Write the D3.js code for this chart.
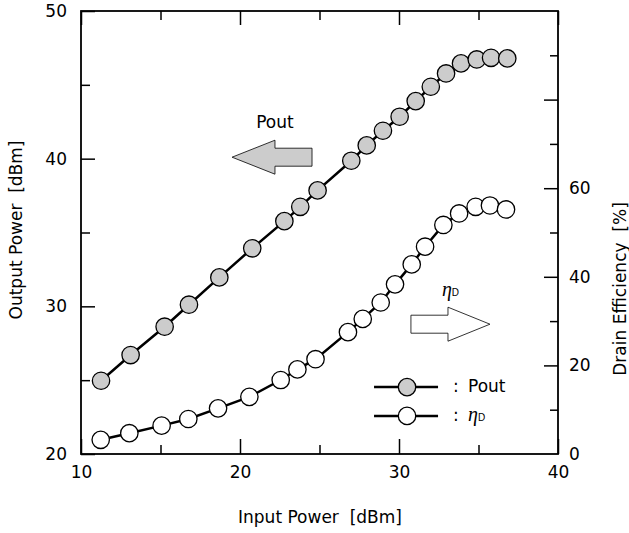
<!DOCTYPE html>
<html>
<head>
<meta charset="utf-8">
<style>
  body { margin: 0; background: #fff; }
  svg { display: block; }
  text { font-family: "DejaVu Sans", "Liberation Sans", Arial, sans-serif; fill: #000; }
</style>
</head>
<body>
<svg id="chart"></svg>
<script src="https://cdn.jsdelivr.net/npm/d3@7"></script>
<script>

var pinPout = [11.26, 13.12, 15.26, 16.79, 18.70, 20.77, 22.79, 23.79, 24.88, 27.0,
               27.97, 28.99, 30.04, 31.05, 32.0, 32.96, 33.9, 34.89, 35.79, 36.81];
var pout    = [24.96, 26.70, 28.62, 30.11, 31.96, 33.93, 35.77, 36.74, 37.85, 39.86,
               40.90, 41.89, 42.84, 43.90, 44.87, 45.77, 46.45, 46.72, 46.83, 46.79];
var pinEff  = [11.24, 13.04, 15.07, 16.75, 18.62, 20.59, 22.56, 23.61, 24.75, 26.79,
               27.72, 28.85, 29.75, 30.8, 31.64, 32.79, 33.78, 34.82, 35.72, 36.73];
var eff     = [3.2, 4.7, 6.4, 7.9, 10.3, 12.9, 16.7, 19.1, 21.4, 27.5,
               30.5, 34.2, 38.3, 42.8, 46.8, 51.7, 54.3, 55.8, 56.1, 55.2];

var xMajor = [10, 20, 30, 40], xMinor = [15, 25, 35];
var yMajor = [20, 30, 40, 50], yMinor = [25, 35, 45];
var y2Labels = [0, 20, 40, 60], y2Major = [20, 40, 60, 80], y2Minor = [10, 30, 50, 70, 90];

var FONT = '"DejaVu Sans", "Liberation Sans", Arial, sans-serif';

var svg = d3.select('#chart').attr('width', 629).attr('height', 533);

var margin = {top: 11, right: 71, bottom: 79, left: 81},
    width = 629 - margin.left - margin.right,
    height = 533 - margin.top - margin.bottom;

var g = svg.append('g')
    .attr('transform', 'translate(' + margin.left + ',' + margin.top + ')');

var x = d3.scaleLinear().domain([10, 40]).range([0, width]);
var y = d3.scaleLinear().domain([20, 50]).range([height, 0]);
var y2 = d3.scaleLinear().domain([0, 100]).range([height, 0]);

function styleAxis(sel) {
    sel.select('.domain').remove();
    sel.selectAll('line').style('stroke', '#000').style('stroke-width', 1.5);
    sel.selectAll('text').style('font-size', '17px').style('font-family', FONT);
}

// bottom
g.append('g').attr('transform', 'translate(0,' + height + ')')
    .call(d3.axisBottom(x).tickValues(xMajor).tickSize(-15).tickPadding(12).tickFormat(d3.format('d')))
    .call(styleAxis);
g.append('g').attr('transform', 'translate(0,' + height + ')')
    .call(d3.axisBottom(x).tickValues(xMinor).tickSize(-9).tickFormat(''))
    .call(styleAxis);
// top
g.append('g')
    .call(d3.axisTop(x).tickValues(xMajor).tickSize(-14).tickFormat(''))
    .call(styleAxis);
g.append('g')
    .call(d3.axisTop(x).tickValues(xMinor).tickSize(-9).tickFormat(''))
    .call(styleAxis);
// left
g.append('g')
    .call(d3.axisLeft(y).tickValues(yMajor).tickSize(-14).tickPadding(14).tickFormat(d3.format('d')))
    .call(styleAxis);
g.append('g')
    .call(d3.axisLeft(y).tickValues(yMinor).tickSize(-9).tickFormat(''))
    .call(styleAxis);
// right
g.append('g').attr('transform', 'translate(' + width + ',0)')
    .call(d3.axisRight(y2).tickValues(y2Labels).tickSize(0).tickPadding(11).tickFormat(d3.format('d')))
    .call(styleAxis);
g.append('g').attr('transform', 'translate(' + width + ',0)')
    .call(d3.axisRight(y2).tickValues(y2Major).tickSize(-14).tickFormat(''))
    .call(styleAxis);
g.append('g').attr('transform', 'translate(' + width + ',0)')
    .call(d3.axisRight(y2).tickValues(y2Minor).tickSize(-8).tickFormat(''))
    .call(styleAxis);

g.append('rect')
    .attr('width', width).attr('height', height)
    .style('fill', 'none').style('stroke', '#000').style('stroke-width', 1.8);

// axis titles
svg.append('text')
    .attr('x', 320).attr('y', 523)
    .attr('text-anchor', 'middle').style('font-size', '17px')
    .style('white-space', 'pre').text('Input Power  [dBm]');
svg.append('text')
    .attr('transform', 'translate(22,230) rotate(-90)')
    .attr('text-anchor', 'middle').style('font-size', '17px')
    .style('white-space', 'pre').text('Output Power  [dBm]');
svg.append('text')
    .attr('transform', 'translate(626,289) rotate(-90)')
    .attr('text-anchor', 'middle').style('font-size', '17px')
    .style('white-space', 'pre').text('Drain Efficiency  [%]');

// series
var poutData = pinPout.map(function(d, i) { return [d, pout[i]]; });
var effData = pinEff.map(function(d, i) { return [d, eff[i]]; });

g.append('path').datum(poutData)
    .attr('d', d3.line().x(function(d) { return x(d[0]); }).y(function(d) { return y(d[1]); }))
    .style('fill', 'none').style('stroke', '#000').style('stroke-width', 2.5);
g.append('path').datum(effData)
    .attr('d', d3.line().x(function(d) { return x(d[0]); }).y(function(d) { return y2(d[1]); }))
    .style('fill', 'none').style('stroke', '#000').style('stroke-width', 2.5);

g.selectAll('.pout').data(poutData).enter().append('circle')
    .attr('class', 'pout')
    .attr('cx', function(d) { return x(d[0]); })
    .attr('cy', function(d) { return y(d[1]); })
    .attr('r', 8.7)
    .style('fill', '#cccccc').style('stroke', '#000').style('stroke-width', 1.3);
g.selectAll('.eff').data(effData).enter().append('circle')
    .attr('class', 'eff')
    .attr('cx', function(d) { return x(d[0]); })
    .attr('cy', function(d) { return y2(d[1]); })
    .attr('r', 8.7)
    .style('fill', '#fff').style('stroke', '#000').style('stroke-width', 1.3);

// arrows pointing to the axis each curve belongs to
function arrow(x0, x1, xHead, cy, fill) {
    var pts = [[x0, cy - 9], [xHead, cy - 9], [xHead, cy - 17], [x1, cy],
               [xHead, cy + 17], [xHead, cy + 9], [x0, cy + 9]];
    g.append('polygon')
        .attr('points', pts.map(function(p) { return p.join(','); }).join(' '))
        .style('fill', fill).style('stroke', '#000').style('stroke-width', 0.8);
}
arrow(x(24.53), x(19.5), x(22.2), y(40.1), '#cccccc');
arrow(x(30.75), x(35.72), x(33.08), y2(29.3), '#fff');

g.append('text')
    .attr('x', x(22.2)).attr('y', y(40.1) - 29)
    .attr('text-anchor', 'middle').style('font-size', '17px').text('Pout');

function etaLabel(sel) {
    sel.append('tspan').text('η')
        .style('font-family', '"Liberation Serif", "Times New Roman", serif')
        .style('font-style', 'italic').style('font-size', '20px');
    sel.append('tspan').text('D').style('font-size', '10px')
        .style('font-family', '"Liberation Sans", Arial, sans-serif');
}
g.append('text')
    .attr('x', x(32.7)).attr('y', y2(35.6))
    .call(etaLabel);

// legend
var legendItems = ['Pout', 'eta'];
var legendFill = ['#cccccc', '#fff'];
var legendY = [y2(15.1), y2(8.6)];

legendItems.forEach(function(name, i) {
    var lx = x(28.43), ly = legendY[i];
    g.append('line')
        .attr('x1', lx).attr('x2', lx + 64).attr('y1', ly).attr('y2', ly)
        .style('stroke', '#000').style('stroke-width', 2.5);
    g.append('circle')
        .attr('cx', lx + 33).attr('cy', ly).attr('r', 8.7)
        .style('fill', legendFill[i]).style('stroke', '#000').style('stroke-width', 1.3);
    g.append('text').attr('x', lx + 79).attr('y', ly + 5)
        .style('font-size', '17px').text(':');
    var t = g.append('text').attr('x', lx + 94).attr('y', ly + 5).style('font-size', '17px');
    if (name === 'eta') t.call(etaLabel); else t.text(name);
});

</script>
</body>
</html>
